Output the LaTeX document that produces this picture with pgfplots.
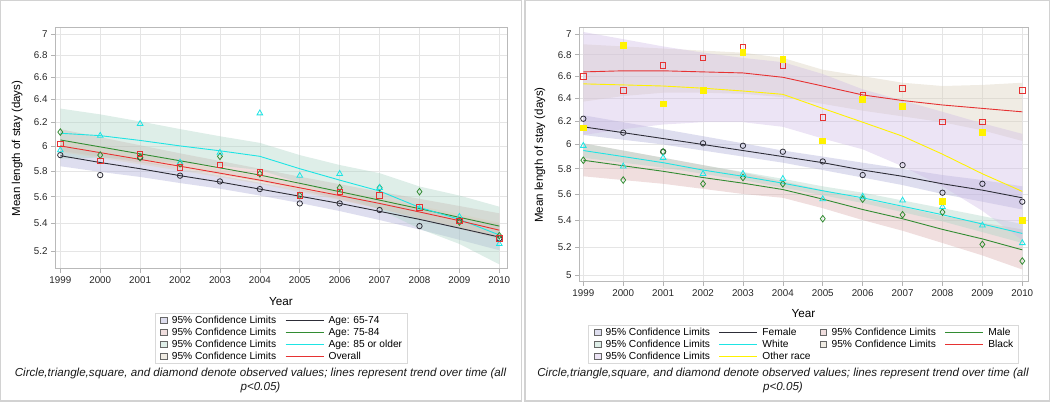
\documentclass[border=0pt]{standalone}
\usepackage{fontspec}
\setmainfont{Liberation Sans}
\usepackage{pgfplots}
\pgfplotsset{compat=1.18}
\usepackage{pgfplotstable}

\definecolor{cBlack}{RGB}{45,45,55}
\definecolor{cGreen}{RGB}{50,140,50}
\definecolor{cCyan}{RGB}{30,228,228}
\definecolor{cRed}{RGB}{230,50,50}
\definecolor{cYellow}{RGB}{255,242,0}
\definecolor{bandLav}{RGB}{173,173,215}
\definecolor{bandPink}{RGB}{217,172,172}
\definecolor{bandTeal}{RGB}{172,212,197}
\definecolor{bandBeige}{RGB}{217,207,187}
\definecolor{bandPurple}{RGB}{208,188,230}

% age groups: observed (o) and trend (f)
\pgfplotstableread{
year o1 o2 o3 o4 f1 f2 f3 f4
1999 5.93 6.12 5.97 6.02 5.925 6.054 6.11 6.005
2000 5.77 5.93 6.09 5.885 5.87 5.997 6.09 5.95
2001 5.91 5.91 6.19 5.94 5.82 5.940 6.05 5.895
2002 5.765 5.86 5.87 5.83 5.765 5.884 6.005 5.84
2003 5.72 5.92 5.95 5.85 5.715 5.827 5.965 5.785
2004 5.66 5.78 6.28 5.79 5.66 5.770 5.92 5.73
2005 5.55 5.61 5.765 5.61 5.605 5.705 5.82 5.67
2006 5.55 5.67 5.78 5.64 5.55 5.640 5.73 5.61
2007 5.50 5.67 5.67 5.61 5.49 5.575 5.645 5.55
2008 5.38 5.64 5.51 5.52 5.43 5.510 5.52 5.485
2009 5.42 5.41 5.45 5.42 5.365 5.445 5.43 5.42
2010 5.29 5.31 5.25 5.29 5.30 5.380 5.315 5.35
}\agedat

% sex and race: observed (o) and trend (f)
\pgfplotstableread{
year ofem omal owhi oblk ooth ffem fmal fwhi fblk foth
1999 6.22 5.87 5.99 6.60 6.14 6.15 5.87 5.95 6.64 6.53
2000 6.10 5.71 5.82 6.47 6.89 6.10 5.825 5.90 6.65 6.52
2001 5.94 5.94 5.89 6.70 6.35 6.05 5.78 5.85 6.65 6.51
2002 6.01 5.68 5.76 6.77 6.47 6.00 5.73 5.79 6.64 6.49
2003 5.99 5.73 5.76 6.87 6.82 5.95 5.685 5.74 6.63 6.465
2004 5.94 5.68 5.72 6.70 6.76 5.90 5.635 5.685 6.59 6.435
2005 5.86 5.41 5.56 6.23 6.03 5.85 5.56 5.625 6.51 6.31
2006 5.75 5.56 5.58 6.43 6.39 5.79 5.48 5.57 6.43 6.19
2007 5.83 5.44 5.55 6.49 6.33 5.74 5.41 5.505 6.38 6.07
2008 5.61 5.46 5.50 6.19 5.54 5.68 5.33 5.44 6.34 5.92
2009 5.68 5.22 5.36 6.19 6.10 5.63 5.26 5.37 6.31 5.76
2010 5.54 5.10 5.23 6.47 5.40 5.57 5.18 5.30 6.28 5.62
}\sexdat

\pgfplotsset{
  myband/.style={draw=none, fill=#1, fill opacity=0.4, forget plot},
  mytrend/.style={color=#1, line width=0.9pt, no markers, forget plot},
  myobs/.style={only marks, forget plot, mark options={draw=#1, line width=0.8pt, draw opacity=1, fill opacity=1}, color=#1},
  mycileg/.style={legend image code/.code={%
    \path[draw=none, fill=none] (-0.5pt,-4pt) rectangle (11.5pt,4pt);
    \draw[draw=gray!80!black, line width=0.5pt, fill=#1!40] (0pt,-3.3pt) rectangle (6.6pt,3.3pt);}},
  mylineleg/.style={legend image code/.code={%
    \path[draw=none, fill=none] (0pt,-4pt) rectangle (43pt,4pt);
    \draw[draw=#1, line width=0.9pt] (0pt,0pt) -- (38pt,0pt);}},
  mylegend/.style={legend cell align=left,
    legend style={draw=gray!30, line width=0.7pt, fill=white,
      font=\fontsize{10.2}{11}\selectfont, inner xsep=5pt, inner ysep=1pt,
      nodes={inner xsep=0pt, inner ysep=1.2pt, text height=7.5pt, text depth=2.1pt},
      row sep=0pt, /tikz/every even column/.append style={column sep=9pt}}},
}

\begin{document}
\begin{tikzpicture}
\useasboundingbox (0pt,0pt) rectangle (1050pt,404pt);
\draw[gray!35, line width=1.2pt] (0.6pt,3pt) rectangle (521.5pt,403.4pt);
\draw[gray!35, line width=1.2pt] (525pt,3pt) rectangle (1049.4pt,403.4pt);

\begin{axis}[ymode=log, scale only axis, at={(55pt,135pt)}, anchor=south west,
  width=452pt, height=241pt,
  xmin=1998.867, xmax=2010.193, ymin=5.073, ymax=7.058,
  axis line style={gray!55, line width=1pt},
  tick pos=left, tick align=outside, major tick length=4pt,
  major tick style={gray!60, line width=0.7pt},
  grid=major, grid style={gray!20, line width=0.7pt},
  xtick={1999,2000,2001,2002,2003,2004,2005,2006,2007,2008,2009,2010},
  xticklabels={1999,2000,2001,2002,2003,2004,2005,2006,2007,2008,2009,2010},
  ytick={5.2,5.4,5.6,5.8,6,6.2,6.4,6.6,6.8,7},
  yticklabels={5.2,5.4,5.6,5.8,6,6.2,6.4,6.6,6.8,7},
  tick label style={font=\fontsize{9.8}{11}\selectfont, text=black!85},
  xlabel={Year}, ylabel={Mean length of stay (days)},
  xlabel style={font=\fontsize{11.7}{13}\selectfont, at={(axis description cs:0.5,-0.137)}, anchor=center},
  ylabel style={font=\fontsize{11.5}{13}\selectfont, at={(axis description cs:-0.084,0.5)}, anchor=center},
  mylegend, legend columns=2, legend style={at={(0.5,-0.1826)}, anchor=north}]
  % 95% limits: upper edge 1999-2010, then lower edge 2010-1999
  \addplot[myband=bandLav] coordinates {(1999,6.01)(2000,5.945)(2001,5.885)(2002,5.823)(2003,5.767)(2004,5.71)(2005,5.657)(2006,5.608)(2007,5.555)(2008,5.505)(2009,5.45)(2010,5.395)
    (2010,5.205)(2009,5.28)(2008,5.355)(2007,5.425)(2006,5.492)(2005,5.553)(2004,5.61)(2003,5.663)(2002,5.707)(2001,5.755)(2000,5.795)(1999,5.84)};
  \addplot[myband=bandPink] coordinates {(1999,6.144)(2000,6.077)(2001,6.01)(2002,5.944)(2003,5.882)(2004,5.82)(2005,5.757)(2006,5.698)(2007,5.64)(2008,5.585)(2009,5.53)(2010,5.475)
    (2010,5.285)(2009,5.36)(2008,5.435)(2007,5.51)(2006,5.582)(2005,5.653)(2004,5.72)(2003,5.772)(2002,5.824)(2001,5.87)(2000,5.917)(1999,5.964)};
  \addplot[myband=bandTeal] coordinates {(1999,6.32)(2000,6.27)(2001,6.21)(2002,6.145)(2003,6.085)(2004,6.03)(2005,5.93)(2006,5.85)(2007,5.785)(2008,5.68)(2009,5.61)(2010,5.525)
    (2010,5.105)(2009,5.25)(2008,5.36)(2007,5.505)(2006,5.61)(2005,5.71)(2004,5.81)(2003,5.845)(2002,5.865)(2001,5.89)(2000,5.91)(1999,5.90)};
  \addplot[myband=bandBeige] coordinates {(1999,6.055)(2000,5.995)(2001,5.935)(2002,5.875)(2003,5.817)(2004,5.76)(2005,5.702)(2006,5.645)(2007,5.59)(2008,5.53)(2009,5.47)(2010,5.405)
    (2010,5.295)(2009,5.37)(2008,5.44)(2007,5.51)(2006,5.575)(2005,5.638)(2004,5.70)(2003,5.753)(2002,5.805)(2001,5.855)(2000,5.905)(1999,5.955)};

  \addplot[mytrend=cBlack] table[x=year,y=f1]{\agedat};
  \addplot[mytrend=cGreen] table[x=year,y=f2]{\agedat};
  \addplot[mytrend=cCyan] table[x=year,y=f3]{\agedat};
  \addplot[mytrend=cRed] table[x=year,y=f4]{\agedat};

  \addplot[myobs=cBlack, mark=o, mark size=2.7pt] table[x=year,y=o1]{\agedat};
  \addplot[myobs=cGreen, mark=diamond, mark size=3.3pt] table[x=year,y=o2]{\agedat};
  \addplot[myobs=cCyan, mark=triangle, mark size=3.3pt] table[x=year,y=o3]{\agedat};
  \addplot[myobs=cRed, mark=square, mark size=2.7pt] table[x=year,y=o4]{\agedat};

  \addlegendimage{mycileg=bandLav}\addlegendentry{95\% Confidence Limits}
  \addlegendimage{mylineleg=cBlack}\addlegendentry{Age: 65-74}
  \addlegendimage{mycileg=bandPink}\addlegendentry{95\% Confidence Limits}
  \addlegendimage{mylineleg=cGreen}\addlegendentry{Age: 75-84}
  \addlegendimage{mycileg=bandTeal}\addlegendentry{95\% Confidence Limits}
  \addlegendimage{mylineleg=cCyan}\addlegendentry{Age: 85 or older}
  \addlegendimage{mycileg=bandBeige}\addlegendentry{95\% Confidence Limits}
  \addlegendimage{mylineleg=cRed}\addlegendentry{Overall}
\end{axis}

\begin{axis}[ymode=log, scale only axis, at={(579pt,122pt)}, anchor=south west,
  width=449pt, height=254pt,
  xmin=1998.892, xmax=2010.143, ymin=4.953, ymax=7.059,
  axis line style={gray!55, line width=1pt},
  tick pos=left, tick align=outside, major tick length=4pt,
  major tick style={gray!60, line width=0.7pt},
  grid=major, grid style={gray!20, line width=0.7pt},
  xtick={1999,2000,2001,2002,2003,2004,2005,2006,2007,2008,2009,2010},
  xticklabels={1999,2000,2001,2002,2003,2004,2005,2006,2007,2008,2009,2010},
  ytick={5,5.2,5.4,5.6,5.8,6,6.2,6.4,6.6,6.8,7},
  yticklabels={5,5.2,5.4,5.6,5.8,6,6.2,6.4,6.6,6.8,7},
  tick label style={font=\fontsize{9.8}{11}\selectfont, text=black!85},
  xlabel={Year}, ylabel={Mean length of stay (days)},
  xlabel style={font=\fontsize{11.7}{13}\selectfont, at={(axis description cs:0.5,-0.126)}, anchor=center},
  ylabel style={font=\fontsize{11.5}{13}\selectfont, at={(axis description cs:-0.087,0.5)}, anchor=center},
  mylegend, legend columns=4, legend style={at={(0.5,-0.1693)}, anchor=north}]
  \addplot[myband=bandLav] coordinates {(1999,6.25)(2000,6.19)(2001,6.13)(2002,6.07)(2003,6.01)(2004,5.95)(2005,5.90)(2006,5.85)(2007,5.80)(2008,5.75)(2009,5.71)(2010,5.66)
    (2010,5.48)(2009,5.54)(2008,5.60)(2007,5.67)(2006,5.73)(2005,5.79)(2004,5.85)(2003,5.90)(2002,5.95)(2001,6.00)(2000,6.04)(1999,6.08)};
  \addplot[myband=bandPink] coordinates {(1999,6.01)(2000,5.95)(2001,5.89)(2002,5.83)(2003,5.77)(2004,5.70)(2005,5.63)(2006,5.56)(2007,5.50)(2008,5.43)(2009,5.38)(2010,5.33)
    (2010,5.04)(2009,5.14)(2008,5.23)(2007,5.32)(2006,5.40)(2005,5.49)(2004,5.57)(2003,5.60)(2002,5.64)(2001,5.68)(2000,5.71)(1999,5.74)};
  \addplot[myband=bandTeal] coordinates {(1999,6.01)(2000,5.95)(2001,5.89)(2002,5.83)(2003,5.775)(2004,5.72)(2005,5.66)(2006,5.61)(2007,5.55)(2008,5.49)(2009,5.43)(2010,5.37)
    (2010,5.23)(2009,5.31)(2008,5.39)(2007,5.46)(2006,5.53)(2005,5.59)(2004,5.65)(2003,5.71)(2002,5.76)(2001,5.81)(2000,5.85)(1999,5.89)};
  \addplot[myband=bandBeige] coordinates {(1999,6.90)(2000,6.88)(2001,6.86)(2002,6.84)(2003,6.82)(2004,6.77)(2005,6.66)(2006,6.60)(2007,6.54)(2008,6.51)(2009,6.52)(2010,6.54)
    (2010,6.03)(2009,6.12)(2008,6.19)(2007,6.24)(2006,6.29)(2005,6.35)(2004,6.41)(2003,6.44)(2002,6.45)(2001,6.45)(2000,6.42)(1999,6.37)};
  \addplot[myband=bandPurple] coordinates {(1999,7.02)(2000,6.95)(2001,6.88)(2002,6.82)(2003,6.77)(2004,6.73)(2005,6.62)(2006,6.48)(2007,6.38)(2008,6.28)(2009,6.18)(2010,6.09)
    (2010,5.25)(2009,5.47)(2008,5.66)(2007,5.82)(2006,5.96)(2005,6.05)(2004,6.15)(2003,6.19)(2002,6.19)(2001,6.17)(2000,6.13)(1999,6.08)};

  \addplot[mytrend=cBlack] table[x=year,y=ffem]{\sexdat};
  \addplot[mytrend=cGreen] table[x=year,y=fmal]{\sexdat};
  \addplot[mytrend=cCyan] table[x=year,y=fwhi]{\sexdat};
  \addplot[mytrend=cRed] table[x=year,y=fblk]{\sexdat};
  \addplot[mytrend=cYellow] table[x=year,y=foth]{\sexdat};

  \addplot[myobs=cBlack, mark=o, mark size=2.7pt] table[x=year,y=ofem]{\sexdat};
  \addplot[myobs=cGreen, mark=diamond, mark size=3.3pt] table[x=year,y=omal]{\sexdat};
  \addplot[myobs=cCyan, mark=triangle, mark size=3.3pt] table[x=year,y=owhi]{\sexdat};
  \addplot[myobs=cRed, mark=square, mark size=2.7pt] table[x=year,y=oblk]{\sexdat};
  \addplot[myobs=cYellow, mark=square*, mark size=2.9pt] table[x=year,y=ooth]{\sexdat};

  \addlegendimage{mycileg=bandLav}\addlegendentry{95\% Confidence Limits}
  \addlegendimage{mylineleg=cBlack}\addlegendentry{Female}
  \addlegendimage{mycileg=bandPink}\addlegendentry{95\% Confidence Limits}
  \addlegendimage{mylineleg=cGreen}\addlegendentry{Male}
  \addlegendimage{mycileg=bandTeal}\addlegendentry{95\% Confidence Limits}
  \addlegendimage{mylineleg=cCyan}\addlegendentry{White}
  \addlegendimage{mycileg=bandBeige}\addlegendentry{95\% Confidence Limits}
  \addlegendimage{mylineleg=cRed}\addlegendentry{Black}
  \addlegendimage{mycileg=bandPurple}\addlegendentry{95\% Confidence Limits}
  \addlegendimage{mylineleg=cYellow}\addlegendentry{Other race}
\end{axis}

\node[font=\fontsize{11.6}{14}\selectfont\itshape, align=center, text=black!90]
  at (260.5pt,23.5pt) {Circle,triangle,square, and diamond denote observed values; lines represent trend over time (all\\p<0.05)};
\node[font=\fontsize{11.6}{14}\selectfont\itshape, align=center, text=black!90]
  at (783pt,23.5pt) {Circle,triangle,square, and diamond denote observed values; lines represent trend over time (all\\p<0.05)};
\end{tikzpicture}
\end{document}
